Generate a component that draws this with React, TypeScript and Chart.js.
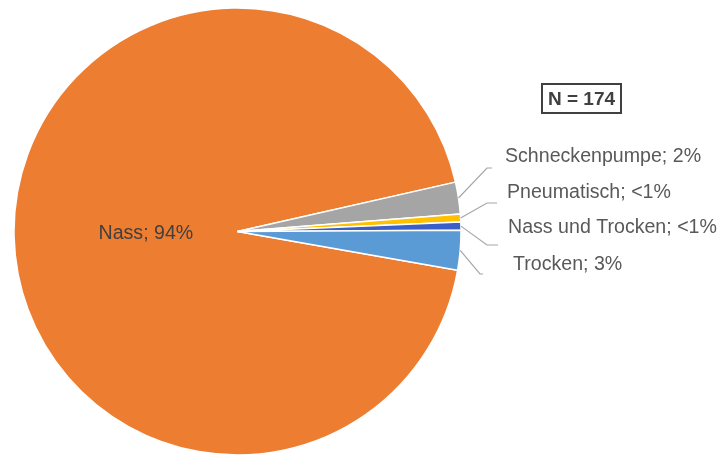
import React, { useEffect, useRef } from "react";
import { Chart, registerables } from "chart.js";

Chart.register(...registerables);

// ---- data ----
const categories = ["Nass", "Schneckenpumpe", "Pneumatisch", "Nass und Trocken", "Trocken"];
const counts = [163, 4, 1, 1, 5];
const colors = ["#ED7D31", "#A5A5A5", "#FFC000", "#3A5FC8", "#5B9BD5"];
const totalLabel = "N = 174";

// ---- label layout (relative to pie centre / right edge) ----
const labelDX = [0, 44, 46, 47, 52];
const labelDY = [0, -74.5, -38.5, -3.5, 33.5];
const elbowDX = [0, 26, 26, 26, 19];
const elbowDY = [0, -63.5, -28.5, 13.5, 42.5];
const lineEndDX = [0, 31, 36, 37, 22];

const FONT = "'Liberation Sans', Arial, sans-serif";

function pctText(v: number, total: number): string {
  const p = (v / total) * 100;
  return p < 1 ? "<1%" : Math.round(p) + "%";
}

const labelPlugin = {
  id: "pieLabels",
  afterDatasetsDraw(chart: any) {
    const ctx = chart.ctx as CanvasRenderingContext2D;
    const meta = chart.getDatasetMeta(0);
    const total = counts.reduce((a, b) => a + b, 0);
    ctx.save();
    meta.data.forEach((arc: any, i: number) => {
      const { x, y, startAngle, endAngle, outerRadius } = arc.getProps(
        ["x", "y", "startAngle", "endAngle", "outerRadius"],
        true
      );
      const mid = (startAngle + endAngle) / 2;
      const text = `${categories[i]}; ${pctText(counts[i], total)}`;
      ctx.font = `19.6px ${FONT}`;
      ctx.textBaseline = "middle";
      if (i === 0) {
        ctx.fillStyle = "#404040";
        ctx.textAlign = "center";
        ctx.fillText(text, x + Math.cos(mid) * outerRadius * 0.41, y + Math.sin(mid) * outerRadius * 0.41);
        return;
      }
      const sx = x + Math.cos(mid) * outerRadius;
      const sy = y + Math.sin(mid) * outerRadius;
      const ex = x + outerRadius + elbowDX[i];
      const ey = y + elbowDY[i];
      const hx = x + outerRadius + lineEndDX[i];
      ctx.strokeStyle = "#A6A6A6";
      ctx.lineWidth = 1.2;
      ctx.beginPath();
      ctx.moveTo(sx, sy);
      ctx.lineTo(ex, ey);
      ctx.lineTo(hx, ey);
      ctx.stroke();
      ctx.fillStyle = "#595959";
      ctx.textAlign = "left";
      ctx.fillText(text, x + outerRadius + labelDX[i], y + labelDY[i]);
    });

    // N = 174 box
    const a0 = meta.data[0];
    const cx = a0.x + a0.outerRadius + 120.5;
    const cy = a0.y - 133;
    const bw = 79;
    const bh = 29;
    ctx.strokeStyle = "#404040";
    ctx.lineWidth = 2;
    ctx.strokeRect(cx - bw / 2, cy - bh / 2, bw, bh);
    ctx.font = `bold 19px ${FONT}`;
    ctx.fillStyle = "#404040";
    ctx.textAlign = "center";
    ctx.textBaseline = "middle";
    ctx.fillText(totalLabel, cx, cy + 1);
    ctx.restore();
  },
};

export default function App() {
  const ref = useRef<HTMLCanvasElement | null>(null);
  useEffect(() => {
    if (!ref.current) return;
    const chart = new Chart(ref.current, {
      type: "pie",
      data: {
        labels: categories,
        datasets: [
          {
            data: counts,
            backgroundColor: colors,
            borderColor: "#FFFFFF",
            borderWidth: 1.5,
            hoverOffset: 0,
          },
        ],
      },
      options: {
        animation: false,
        responsive: false,
        maintainAspectRatio: false,
        rotation: 100,
        radius: 223.5,
        layout: { padding: { top: 8, left: 14, right: 258, bottom: 0 } },
        plugins: {
          legend: { display: false },
          tooltip: { enabled: false },
        },
        events: [],
      },
      plugins: [labelPlugin],
    });
    return () => chart.destroy();
  }, []);
  return (
    <div style={{ position: "absolute", left: 0, top: 0, width: 719, height: 455, background: "#fff" }}>
      <canvas ref={ref} width={719} height={455} style={{ display: "block" }} />
    </div>
  );
}
